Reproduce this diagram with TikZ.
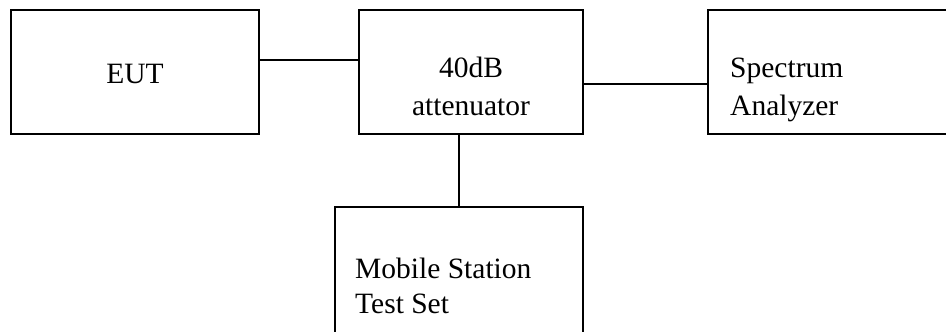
\documentclass[tikz,border=0pt]{standalone}
\usepackage{fontspec}
\setmainfont{Liberation Serif}
\begin{document}
\begin{tikzpicture}[x=1pt,y=-1pt,
  box/.style={draw=black, line width=1.6pt, rectangle, inner sep=0pt},
  lbl/.style={inner sep=0pt, font=\fontsize{29.5}{37.5}\selectfont},
  wire/.style={draw=black, line width=1.6pt}]
\useasboundingbox (0,0) rectangle (946,332);
\clip (0,0) rectangle (946,332);
\node[box, minimum width=248pt, minimum height=124pt] (eut) at (135,72) {};
\node[box, minimum width=224pt, minimum height=124pt] (att) at (471,72) {};
\node[box, minimum width=300pt, minimum height=124pt] (sa) at (858,72) {};
\node[box, minimum width=248pt, minimum height=193pt] (ms) at (459,303.5) {};
\node[lbl, anchor=base] (eutt) at (135,83) {EUT};
\node[lbl, anchor=base, align=center] (attt) at (471,115) {40dB\\attenuator};
\node[lbl, anchor=base west, align=left] (sat) at (730,115) {Spectrum\\Analyzer};
\node[lbl, anchor=base west, align=left, font=\fontsize{29.5}{35}\selectfont] (mst) at (355,313) {Mobile Station\\Test Set};
\draw[wire] ([yshift=12pt]eut.east) -- ([yshift=12pt]att.west);
\draw[wire] ([yshift=-12pt]att.east) -- ([yshift=-12pt]sa.west);
\draw[wire] ([xshift=-12pt]att.south) -- (ms.north);
\end{tikzpicture}
\end{document}
